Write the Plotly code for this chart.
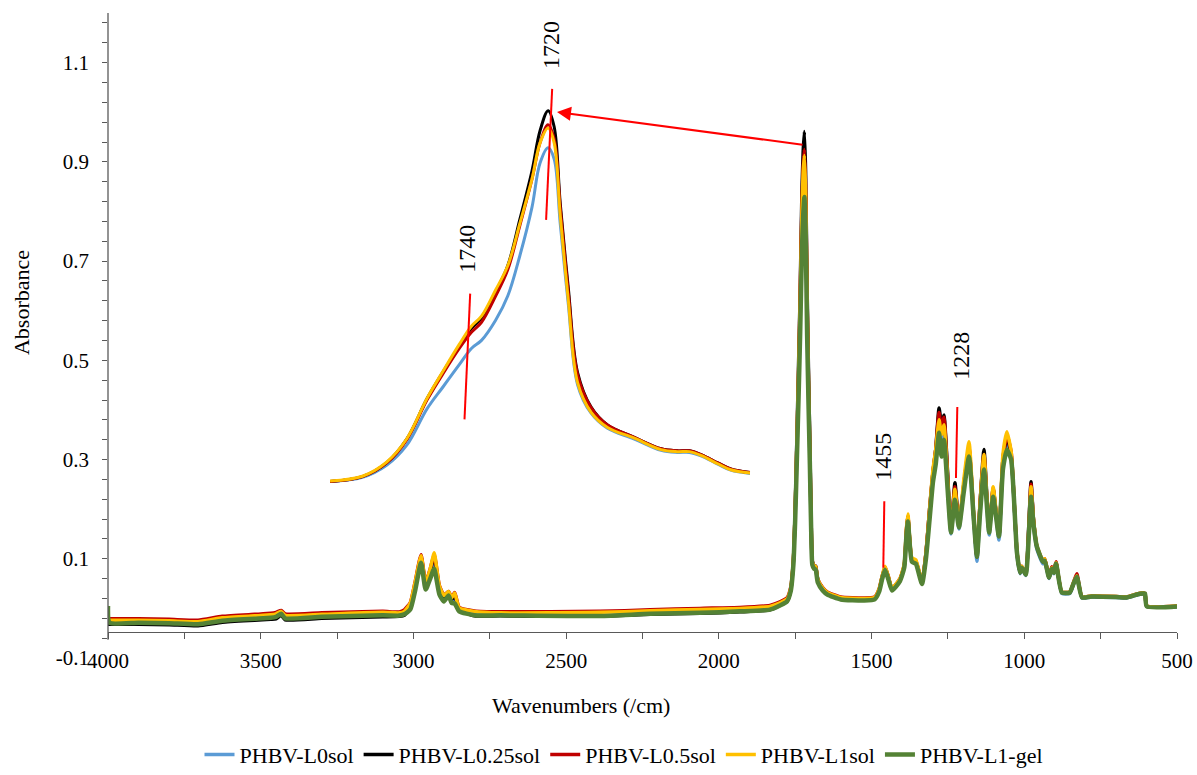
import plotly.graph_objects as go

# ---------------- data: main spectra ----------------
wavenumber = [4000, 3995, 3900, 3800, 3705, 3626, 3520, 3467, 3450, 3433, 3420, 3300, 3100, 3046, 3030,
              3010, 2995, 2975, 2960, 2945, 2932, 2915, 2900, 2885, 2875, 2865, 2850, 2800, 2716,
              2389, 2225, 2062, 1931, 1833, 1800, 1777, 1765, 1756, 1750, 1745, 1738, 1734, 1728,
              1724, 1720, 1716, 1711, 1706, 1702, 1697, 1694, 1688, 1683, 1676, 1660, 1645, 1601,
              1525, 1490, 1475, 1465, 1456, 1445, 1433, 1407, 1393, 1386, 1381, 1368, 1355, 1335,
              1322, 1310, 1299, 1290, 1279, 1271, 1263, 1240, 1227, 1214, 1198, 1181, 1166, 1155,
              1145, 1132, 1115, 1102, 1083, 1070, 1057, 1043, 1024, 1014, 1008, 995, 985, 978, 970,
              959, 939, 933, 919, 910, 903, 896, 877, 851, 840, 828, 811, 780, 700, 665, 631, 615,
              605, 599, 500]

abs_L0sol = [-0.030, -0.030, -0.030, -0.031, -0.033, -0.026, -0.022, -0.020, -0.019, -0.012, -0.021,
             -0.018, -0.015, -0.014, -0.012, 0.004, 0.040, 0.098, 0.044, 0.070, 0.090, 0.034, 0.018,
             0.028, 0.014, 0.022, -0.004, -0.013, -0.013, -0.015, -0.011, -0.009, -0.006, -0.002,
             0.007, 0.015, 0.035, 0.090, 0.19, 0.30, 0.47, 0.57, 0.75, 0.83, 0.87, 0.80, 0.58,
             0.42, 0.30, 0.14, 0.090, 0.082, 0.080, 0.055, 0.038, 0.029, 0.019, 0.017, 0.019, 0.036,
             0.062, 0.080, 0.060, 0.037, 0.056, 0.083, 0.150, 0.178, 0.096, 0.092, 0.050, 0.105,
             0.19, 0.26, 0.30, 0.36, 0.32, 0.35, 0.15, 0.225, 0.160, 0.24, 0.31, 0.18, 0.095, 0.19,
             0.29, 0.148, 0.235, 0.138, 0.28, 0.33, 0.30, 0.108, 0.070, 0.080, 0.066, 0.15, 0.23,
             0.17, 0.120, 0.090, 0.093, 0.060, 0.078, 0.070, 0.088, 0.030, 0.030, 0.046, 0.062,
             0.021, 0.023, 0.022, 0.021, 0.027, 0.029, 0.028, 0.004, 0.004]

abs_L025sol = [-0.032, -0.032, -0.032, -0.033, -0.035, -0.028, -0.024, -0.022, -0.021, -0.014, -0.023,
               -0.020, -0.017, -0.016, -0.014, 0.004, 0.045, 0.104, 0.048, 0.075, 0.105, 0.040, 0.022,
               0.030, 0.017, 0.026, -0.002, -0.015, -0.015, -0.016, -0.012, -0.010, -0.007, -0.003,
               0.006, 0.014, 0.036, 0.095, 0.20, 0.33, 0.52, 0.63, 0.84, 0.92, 0.961, 0.88, 0.64,
               0.46, 0.33, 0.15, 0.095, 0.086, 0.085, 0.058, 0.040, 0.030, 0.020, 0.018, 0.020, 0.037,
               0.063, 0.082, 0.062, 0.039, 0.058, 0.085, 0.152, 0.185, 0.098, 0.094, 0.052, 0.110,
               0.20, 0.275, 0.32, 0.404, 0.37, 0.39, 0.16, 0.253, 0.168, 0.25, 0.32, 0.19, 0.104, 0.21,
               0.32, 0.155, 0.240, 0.146, 0.30, 0.345, 0.31, 0.113, 0.072, 0.083, 0.068, 0.17, 0.255,
               0.18, 0.125, 0.094, 0.098, 0.062, 0.082, 0.072, 0.092, 0.032, 0.032, 0.048, 0.066,
               0.022, 0.024, 0.023, 0.022, 0.028, 0.030, 0.030, 0.004, 0.004]

abs_L05sol = [-0.021, -0.021, -0.021, -0.022, -0.024, -0.016, -0.012, -0.010, -0.008, -0.004, -0.011,
              -0.009, -0.006, -0.007, -0.003, 0.012, 0.052, 0.108, 0.053, 0.080, 0.108, 0.046, 0.027,
              0.034, 0.022, 0.032, 0.002, -0.005, -0.007, -0.006, -0.003, 0.000, 0.002, 0.006,
              0.013, 0.021, 0.042, 0.098, 0.20, 0.32, 0.50, 0.62, 0.81, 0.89, 0.925, 0.85, 0.62,
              0.44, 0.32, 0.15, 0.095, 0.086, 0.084, 0.058, 0.042, 0.033, 0.023, 0.021, 0.023, 0.040,
              0.066, 0.084, 0.064, 0.040, 0.060, 0.088, 0.158, 0.186, 0.100, 0.096, 0.054, 0.112,
              0.20, 0.275, 0.32, 0.395, 0.36, 0.385, 0.158, 0.245, 0.166, 0.25, 0.325, 0.19, 0.104, 0.21,
              0.31, 0.155, 0.242, 0.146, 0.30, 0.35, 0.315, 0.114, 0.074, 0.085, 0.070, 0.165, 0.25,
              0.18, 0.126, 0.096, 0.100, 0.064, 0.084, 0.073, 0.094, 0.033, 0.033, 0.050, 0.070,
              0.023, 0.025, 0.024, 0.023, 0.029, 0.031, 0.030, 0.005, 0.005]

abs_L1sol = [-0.024, -0.024, -0.024, -0.025, -0.027, -0.019, -0.015, -0.013, -0.011, -0.006, -0.014,
             -0.012, -0.008, -0.009, -0.006, 0.011, 0.051, 0.106, 0.051, 0.080, 0.112, 0.045, 0.026,
             0.034, 0.021, 0.031, 0.001, -0.006, -0.009, -0.008, -0.005, -0.002, 0.000, 0.004,
             0.011, 0.019, 0.040, 0.097, 0.20, 0.32, 0.50, 0.61, 0.80, 0.88, 0.913, 0.84, 0.61,
             0.43, 0.31, 0.145, 0.093, 0.086, 0.084, 0.058, 0.041, 0.032, 0.022, 0.020, 0.022, 0.040,
             0.066, 0.085, 0.064, 0.041, 0.060, 0.090, 0.160, 0.190, 0.102, 0.098, 0.055, 0.112,
             0.20, 0.28, 0.32, 0.38, 0.35, 0.37, 0.158, 0.240, 0.166, 0.26, 0.336, 0.195, 0.106, 0.21,
             0.31, 0.156, 0.245, 0.148, 0.31, 0.356, 0.316, 0.115, 0.075, 0.085, 0.070, 0.16, 0.245,
             0.18, 0.127, 0.096, 0.100, 0.064, 0.082, 0.073, 0.092, 0.033, 0.033, 0.050, 0.066,
             0.023, 0.025, 0.024, 0.023, 0.029, 0.031, 0.030, 0.005, 0.005]

abs_L1gel = [0.005, -0.029, -0.029, -0.030, -0.032, -0.025, -0.021, -0.019, -0.017, -0.011, -0.020,
             -0.017, -0.014, -0.0145, -0.012, -0.002, 0.034, 0.092, 0.038, 0.060, 0.080, 0.028, 0.014,
             0.026, 0.011, 0.010, -0.006, -0.014, -0.014, -0.0155, -0.011, -0.009, -0.006, -0.0025,
             0.006, 0.014, 0.034, 0.088, 0.18, 0.29, 0.45, 0.55, 0.72, 0.79, 0.829, 0.76, 0.55,
             0.40, 0.29, 0.135, 0.088, 0.080, 0.078, 0.052, 0.036, 0.028, 0.018, 0.016, 0.018, 0.034,
             0.060, 0.078, 0.058, 0.036, 0.055, 0.082, 0.145, 0.175, 0.094, 0.090, 0.049, 0.100,
             0.18, 0.255, 0.29, 0.354, 0.306, 0.34, 0.153, 0.219, 0.163, 0.235, 0.306, 0.185, 0.104, 0.19,
             0.28, 0.153, 0.225, 0.145, 0.28, 0.32, 0.30, 0.112, 0.072, 0.082, 0.068, 0.15, 0.225,
             0.17, 0.125, 0.094, 0.096, 0.062, 0.080, 0.072, 0.090, 0.032, 0.032, 0.048, 0.064,
             0.022, 0.024, 0.023, 0.022, 0.028, 0.030, 0.030, 0.004, 0.004]

# ---------------- data: inset (carbonyl band) ----------------
inset_wavenumber = [1774, 1766, 1760, 1755, 1750, 1746, 1742, 1739, 1736.5, 1733, 1730, 1727, 1724, 1722,
                    1720, 1718.5, 1717, 1715, 1712.7, 1709.4, 1705.3, 1698.8, 1692, 1688, 1685, 1682,
                    1678, 1674.8, 1670]
inset_L0sol = [0.040, 0.050, 0.080, 0.130, 0.220, 0.275, 0.330, 0.370, 0.390, 0.440, 0.500, 0.600, 0.720,
               0.830, 0.868, 0.840, 0.680, 0.480, 0.280, 0.210, 0.172, 0.146, 0.117, 0.112, 0.112, 0.103,
               0.083, 0.068, 0.060]
inset_L025sol = [0.040, 0.052, 0.086, 0.145, 0.245, 0.312, 0.375, 0.420, 0.445, 0.510, 0.575, 0.690, 0.810,
                 0.910, 0.960, 0.920, 0.730, 0.520, 0.310, 0.225, 0.180, 0.150, 0.121, 0.116, 0.116, 0.106,
                 0.086, 0.071, 0.062]
inset_L05sol = [0.040, 0.052, 0.086, 0.144, 0.242, 0.308, 0.370, 0.410, 0.435, 0.500, 0.565, 0.675, 0.790,
                0.880, 0.925, 0.890, 0.720, 0.510, 0.305, 0.224, 0.180, 0.150, 0.121, 0.116, 0.116, 0.106,
                0.086, 0.071, 0.062]
inset_L1sol = [0.041, 0.053, 0.088, 0.146, 0.246, 0.314, 0.380, 0.425, 0.450, 0.515, 0.575, 0.680, 0.790,
               0.880, 0.917, 0.880, 0.700, 0.490, 0.285, 0.212, 0.174, 0.148, 0.119, 0.114, 0.114, 0.104,
               0.084, 0.069, 0.061]

series_names = ["PHBV-L0sol", "PHBV-L0.25sol", "PHBV-L0.5sol", "PHBV-L1sol", "PHBV-L1-gel"]
series_colors = ["#5B9BD5", "#000000", "#C00000", "#FFC000", "#548235"]
main_values = [abs_L0sol, abs_L025sol, abs_L05sol, abs_L1sol, abs_L1gel]
inset_values = [inset_L0sol, inset_L025sol, inset_L05sol, inset_L1sol]

x_ticks = [4000, 3500, 3000, 2500, 2000, 1500, 1000, 500]
y_ticks = [-0.1, 0.1, 0.3, 0.5, 0.7, 0.9, 1.1]

peak_labels = ["1720", "1740", "1455", "1228"]

FONT = "Liberation Serif"
AXC = "#595959"
RED = "#FF0000"

fig = go.Figure()

for name, col, vals in zip(series_names, series_colors, main_values):
    fig.add_trace(go.Scatter(
        x=wavenumber, y=vals, name=name, mode="lines",
        line=dict(color=col, width=4.5 if name == "PHBV-L1-gel" else 3.5, shape="spline", smoothing=0.5),
        xaxis="x", yaxis="y"))

for name, col, vals in zip(series_names[:4], series_colors[:4], inset_values):
    fig.add_trace(go.Scatter(
        x=inset_wavenumber, y=vals, name=name, mode="lines", showlegend=False,
        line=dict(color=col, width=3, shape="spline", smoothing=1.0),
        xaxis="x2", yaxis="y2"))

# invisible trace to anchor the tick-mark overlay axis
fig.add_trace(go.Scatter(x=[4000], y=[0], mode="markers", marker=dict(opacity=0),
                         showlegend=False, hoverinfo="skip", xaxis="x", yaxis="y3"))

plot_h = 645.0
x_axis_pos = 26 / plot_h

fig.update_layout(
    width=1197, height=775,
    margin=dict(l=108, r=20, t=13, b=117, autoexpand=False),
    paper_bgcolor="white", plot_bgcolor="white",
    font=dict(family=FONT, size=20, color="#000000"),
    showlegend=True,
    legend=dict(orientation="h", x=0.4827, xanchor="center", y=-0.150, yanchor="middle",
                font=dict(family=FONT, size=22, color="#000000"), itemwidth=30,
                traceorder="normal"),
    xaxis=dict(range=[4000, 500], tickmode="array", tickvals=x_ticks,
               ticktext=[str(v) for v in x_ticks], automargin=False,
               ticks="outside", ticklen=6, tickcolor=AXC, tickwidth=1.3,
               minor=dict(dtick=250, tick0=500, ticks="outside", ticklen=6, tickcolor=AXC, tickwidth=1.3),
               showline=True, linecolor=AXC, linewidth=1.3, showgrid=False, zeroline=False,
               anchor="free", position=x_axis_pos, ticklabelstandoff=4,
               tickfont=dict(family=FONT, size=21, color="#000000")),
    yaxis=dict(range=[-0.1, 1.2], tickmode="array", tickvals=y_ticks,
               ticktext=[f"{v:.1f}" for v in y_ticks], automargin=False,
               ticks="", showline=False, showgrid=False, zeroline=False,
               ticklabelstandoff=18,
               tickfont=dict(family=FONT, size=21, color="#000000")),
    yaxis3=dict(range=[-0.1, 1.2], overlaying="y", side="left", anchor="x", automargin=False,
                tickmode="array", tickvals=[round(-0.06 + 0.04 * k, 2) for k in range(32)],
                ticks="outside", ticklen=5, tickcolor=AXC, tickwidth=1.3,
                showticklabels=False, showline=False, showgrid=False, zeroline=False),
    xaxis2=dict(domain=[0.2077, 0.6006], range=[1774, 1670], visible=False, anchor="y2"),
    yaxis2=dict(domain=[0.2487, 0.9361], range=[0, 1.1], visible=False, anchor="x2"),
)

# y axis line
fig.add_shape(type="line", xref="paper", yref="y", x0=0, x1=0, y0=-0.063, y1=1.2,
              line=dict(color=AXC, width=1.3))

# red marker lines
red_lines = [
    ("x2", "y2", 1719.0, 1.014, 1720.5, 0.689),
    ("x2", "y2", 1739.3, 0.506, 1740.7, 0.194),
    ("x", "y", 1458.3, 0.216, 1461.6, 0.082),
    ("x", "y", 1219.3, 0.406, 1223.7, 0.263),
]
for xr, yr, xa, ya, xb, yb in red_lines:
    fig.add_shape(type="line", xref=xr, yref=yr, x0=xa, y0=ya, x1=xb, y1=yb,
                  line=dict(color=RED, width=2))

# arrow from main peak to inset peak
fig.add_annotation(x=2530, y=1.0006, ax=1721.2, ay=0.934, xref="x", yref="y", axref="x", ayref="y",
                   showarrow=True, arrowhead=2, arrowsize=1.4, arrowwidth=2, arrowcolor=RED,
                   text="", standoff=0)

# peak labels
label_pos = [(2549.6, 1.1355), (2824.6, 0.7247), (1462.6, 0.3057), (1207.2, 0.5092)]
for txt, (px, py) in zip(peak_labels, label_pos):
    fig.add_annotation(x=px, y=py, xref="x", yref="y", text=txt, showarrow=False, textangle=-90,
                       xanchor="center", yanchor="middle",
                       font=dict(family=FONT, size=24, color="#000000"))

# axis titles
fig.add_annotation(x=-0.0804, y=0.5504, xref="paper", yref="paper", text="Absorbance", showarrow=False,
                   textangle=-90, xanchor="center", yanchor="middle",
                   font=dict(family=FONT, size=22, color="#000000"))
fig.add_annotation(x=0.4425, y=-0.0744, xref="paper", yref="paper", text="Wavenumbers (/cm)",
                   showarrow=False, xanchor="center", yanchor="middle",
                   font=dict(family=FONT, size=22, color="#000000"))

fig.write_html("out.html", config={"displayModeBar": False},
               post_script="document.body.style.margin='0px';")
